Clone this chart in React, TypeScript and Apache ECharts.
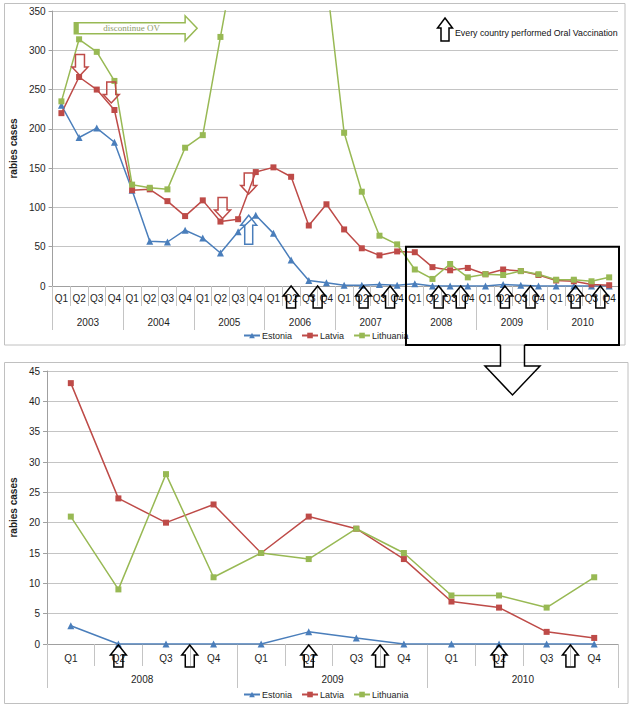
import React, { useEffect, useRef } from "react";
import * as echarts from "echarts";

// ---------- data ----------
const years = ["2003", "2004", "2005", "2006", "2007", "2008", "2009", "2010"];
const quarters = ["Q1", "Q2", "Q3", "Q4"];
const quarterLabels = years.flatMap(() => quarters);

const estonia = [230, 189, 201, 183, 122, 57, 56, 71, 61, 42, 69, 90, 67, 33, 7, 4, 1, 1, 2, 1, 3, 0, 0, 0, 0, 2, 1, 0, 0, 0, 0, 0];
const latvia = [220, 266, 250, 224, 122, 123, 108, 89, 109, 82, 85, 145, 151, 139, 77, 104, 72, 48, 39, 44, 43, 24, 20, 23, 15, 21, 19, 14, 7, 6, 2, 1];
const lithuania = [235, 314, 298, 261, 129, 125, 123, 176, 192, 317, 440, 600, 700, 650, 550, 390, 195, 120, 64, 53, 21, 9, 28, 11, 15, 14, 19, 15, 8, 8, 6, 11];

const zoomStart = 20; // 2008 Q1
const zoomYears = years.slice(5);
const zoomQuarters = quarterLabels.slice(zoomStart);

const topYTicks = { max: 350, interval: 50 };
const bottomYTicks = { max: 45, interval: 5 };

// annotation positions (category index, value)
const topVaccIdx = [13, 14.5, 17.1, 18.6, 21.35, 22.6, 25.1, 26.55, 29.1, 30.5];
const bottomVaccIdx = [1, 2.5, 5, 6.5, 9, 10.5];
const latviaDownArrows = [
  { i: 1.05, v: 268 },
  { i: 2.82, v: 233 },
  { i: 9.12, v: 86 },
  { i: 10.6, v: 117 },
];
const estoniaUpArrows = [{ i: 10.6, v: 90 }];

const FONT = "'Liberation Sans', Arial, sans-serif";
const C_EST = "#4a7ebb";
const C_LAT = "#be4b48";
const C_LIT = "#98b954";
const GRID_LINE = "#c4c4c4";
const AXIS_LINE = "#a0a0a0";
const TEXT = "#1e1e1e";

function upArrow(cx: number, tipY: number, w: number, h: number, headH: number, bodyW: number) {
  return [
    [cx, tipY],
    [cx + w / 2, tipY + headH],
    [cx + bodyW / 2, tipY + headH],
    [cx + bodyW / 2, tipY + h],
    [cx - bodyW / 2, tipY + h],
    [cx - bodyW / 2, tipY + headH],
    [cx - w / 2, tipY + headH],
  ];
}
function downArrow(cx: number, tipY: number, w: number, h: number, headH: number, bodyW: number) {
  return upArrow(cx, tipY, w, h, headH, bodyW).map(([x, y]) => [x, 2 * tipY - y]);
}

function makeSeries(gridIdx: number, sliceFrom: number) {
  const xAxisIndex = gridIdx * 2;
  const base = {
    type: "line" as const,
    xAxisIndex,
    yAxisIndex: gridIdx,
    clip: true,
    showSymbol: true,
  };
  return [
    {
      ...base,
      name: "Estonia",
      data: estonia.slice(sliceFrom),
      symbol: "triangle",
      symbolSize: 7,
      lineStyle: { color: C_EST, width: 1.5 },
      itemStyle: { color: C_EST },
    },
    {
      ...base,
      name: "Latvia",
      data: latvia.slice(sliceFrom),
      symbol: "rect",
      symbolSize: 6,
      lineStyle: { color: C_LAT, width: 1.5 },
      itemStyle: { color: C_LAT },
    },
    {
      ...base,
      name: "Lithuania",
      data: lithuania.slice(sliceFrom),
      symbol: "rect",
      symbolSize: 6,
      lineStyle: { color: C_LIT, width: 1.5 },
      itemStyle: { color: C_LIT },
    },
  ];
}

function qAxis(gridIndex: number, data: string[], tickLen: number, margin: number) {
  return {
    gridIndex,
    type: "category" as const,
    data,
    boundaryGap: true,
    position: "bottom" as const,
    axisLine: { show: true, lineStyle: { color: AXIS_LINE, width: 1 } },
    axisTick: { show: true, interval: 0, length: tickLen, lineStyle: { color: GRID_LINE } },
    axisLabel: { interval: 0, margin, fontSize: 10, color: TEXT, fontFamily: FONT },
    splitLine: { show: false },
  };
}
function yearAxis(gridIndex: number, data: string[], tickLen: number, margin: number) {
  return {
    gridIndex,
    type: "category" as const,
    data,
    boundaryGap: true,
    position: "bottom" as const,
    axisLine: { show: false },
    axisTick: { show: true, interval: 0, length: tickLen, lineStyle: { color: GRID_LINE } },
    axisLabel: { interval: 0, margin, fontSize: 10, color: TEXT, fontFamily: FONT },
    splitLine: { show: false },
  };
}
function vAxis(gridIndex: number, ticks: { max: number; interval: number }, nameGap: number) {
  return {
    gridIndex,
    type: "value" as const,
    min: 0,
    max: ticks.max,
    interval: ticks.interval,
    name: "rabies cases",
    nameLocation: "middle" as const,
    nameRotate: 90,
    nameGap,
    nameTextStyle: { fontSize: 10, fontWeight: "bold" as const, color: TEXT, fontFamily: FONT },
    axisLine: { show: true, lineStyle: { color: AXIS_LINE } },
    axisTick: { show: true, length: 4, lineStyle: { color: AXIS_LINE } },
    axisLabel: { fontSize: 10, color: TEXT, margin: 7, fontFamily: FONT },
    splitLine: { show: true, lineStyle: { color: GRID_LINE, width: 1 } },
  };
}
function legend(top: number) {
  return {
    data: ["Estonia", "Latvia", "Lithuania"],
    left: 238,
    top,
    itemWidth: 16,
    itemHeight: 7,
    itemGap: 9,
    textStyle: { fontSize: 9, color: TEXT, fontFamily: FONT, padding: [0, 0, 0, -3] },
  };
}

export default function App() {
  const ref = useRef<HTMLDivElement>(null);
  useEffect(() => {
    if (!ref.current) return;
    const chart = echarts.init(ref.current, null, { renderer: "svg" });
    chart.setOption({
      animation: false,
      backgroundColor: "#ffffff",
      textStyle: { fontFamily: FONT },
      grid: [
        { left: 47, right: 16, top: 11, height: 275 },
        { left: 47, right: 16, top: 371, height: 273 },
      ],
      xAxis: [
        qAxis(0, quarterLabels, 20, 7),
        yearAxis(0, years, 44, 31),
        qAxis(1, zoomQuarters, 22, 9),
        yearAxis(1, zoomYears, 44, 30),
      ],
      yAxis: [vAxis(0, topYTicks, 30), vAxis(1, bottomYTicks, 26)],
      legend: [legend(326), legend(685)],
      series: [...makeSeries(0, 0), ...makeSeries(1, zoomStart)],
    });

    // annotation helpers
    const xPix = (axis: number, i: number) => {
      const a = chart.convertToPixel({ xAxisIndex: axis }, 0) as number;
      const b = chart.convertToPixel({ xAxisIndex: axis }, 1) as number;
      return a + (b - a) * i;
    };
    const yPix = (axis: number, v: number) => chart.convertToPixel({ yAxisIndex: axis }, v) as number;

    const g: any[] = [];
    // outer borders
    g.push({ type: "rect", shape: { x: 4.5, y: 3.5, width: 620.5, height: 341.5 }, style: { fill: "none", stroke: "#c0c0c0", lineWidth: 1 }, z: 1 });
    g.push({ type: "rect", shape: { x: 4.5, y: 362.5, width: 623.5, height: 341 }, style: { fill: "none", stroke: "#c0c0c0", lineWidth: 1 }, z: 1 });

    const axisYTop = yPix(0, 0);
    const axisYBot = yPix(1, 0);

    // vaccination arrows
    topVaccIdx.forEach((i) => {
      g.push({ type: "polygon", z: 100, shape: { points: upArrow(xPix(0, i), axisYTop, 16, 22, 10, 9) }, style: { fill: "none", stroke: "#000", lineWidth: 1.5 } });
    });
    bottomVaccIdx.forEach((i) => {
      g.push({ type: "polygon", z: 100, shape: { points: upArrow(xPix(2, i), axisYBot + 1, 16, 22, 10, 9) }, style: { fill: "none", stroke: "#000", lineWidth: 1.5 } });
    });
    latviaDownArrows.forEach((a) => {
      g.push({ type: "polygon", z: 100, shape: { points: downArrow(xPix(0, a.i), yPix(0, a.v), 16, 21, 8.5, 9) }, style: { fill: "none", stroke: C_LAT, lineWidth: 1.5 } });
    });
    estoniaUpArrows.forEach((a) => {
      g.push({ type: "polygon", z: 100, shape: { points: upArrow(xPix(0, a.i), yPix(0, a.v), 16, 29, 10, 8) }, style: { fill: "none", stroke: C_EST, lineWidth: 1.5 } });
    });

    // discontinue OV arrow
    const gx0 = xPix(0, 0.73);
    const gx1 = xPix(0, 7.68);
    const gy = yPix(0, 328);
    g.push({
      type: "polygon",
      z: 100,
      shape: {
        points: [
          [gx0, gy - 5.5], [gx1 - 12, gy - 5.5], [gx1 - 12, gy - 12.5], [gx1, gy],
          [gx1 - 12, gy + 12.5], [gx1 - 12, gy + 5.5], [gx0, gy + 5.5],
        ],
      },
      style: { fill: "none", stroke: C_LIT, lineWidth: 1.5 },
    });
    g.push({ type: "rect", z: 101, shape: { x: gx0, y: gy - 5.5, width: 4.5, height: 11 }, style: { fill: C_LIT } });
    g.push({
      type: "text", z: 101, x: (gx0 + gx1 - 12) / 2 + 2, y: gy,
      style: { text: "discontinue OV", fill: "#8d9c6a", fontSize: 9, fontFamily: "'Liberation Serif', serif", align: "center", verticalAlign: "middle" },
    });

    // vaccination key
    g.push({ type: "polygon", z: 100, shape: { points: upArrow(445, 18, 15, 23, 10, 8) }, style: { fill: "none", stroke: "#000", lineWidth: 1.5 } });
    g.push({
      type: "text", z: 101, x: 455, y: 33,
      style: { text: "Every country performed Oral Vaccination", fill: "#111", fontSize: 8.8, fontFamily: FONT, align: "left", verticalAlign: "middle" },
    });

    // zoom box
    const bx0 = xPix(0, zoomStart - 0.5);
    const bx1 = xPix(0, quarterLabels.length - 0.5) + 1;
    const by0 = yPix(0, 50);
    const by1 = 345;
    const cx = (bx0 + bx1) / 2;
    const bw = 12;
    g.push({
      type: "polyline", z: 110,
      shape: { points: [[cx - bw, by1], [bx0, by1], [bx0, by0], [bx1, by0], [bx1, by1], [cx + bw, by1]] },
      style: { fill: "none", stroke: "#000", lineWidth: 2 },
    });
    g.push({
      type: "polyline", z: 110,
      shape: { points: [[cx - bw, by1], [cx - bw, 366], [cx - 27.5, 366], [cx, 395], [cx + 27.5, 366], [cx + bw, 366], [cx + bw, by1]] },
      style: { fill: "none", stroke: "#000", lineWidth: 1.5 },
    });

    chart.setOption({ graphic: { elements: g } });
    return () => chart.dispose();
  }, []);
  return <div ref={ref} style={{ position: "absolute", left: 0, top: 0, width: 634, height: 709, background: "#fff" }} />;
}
